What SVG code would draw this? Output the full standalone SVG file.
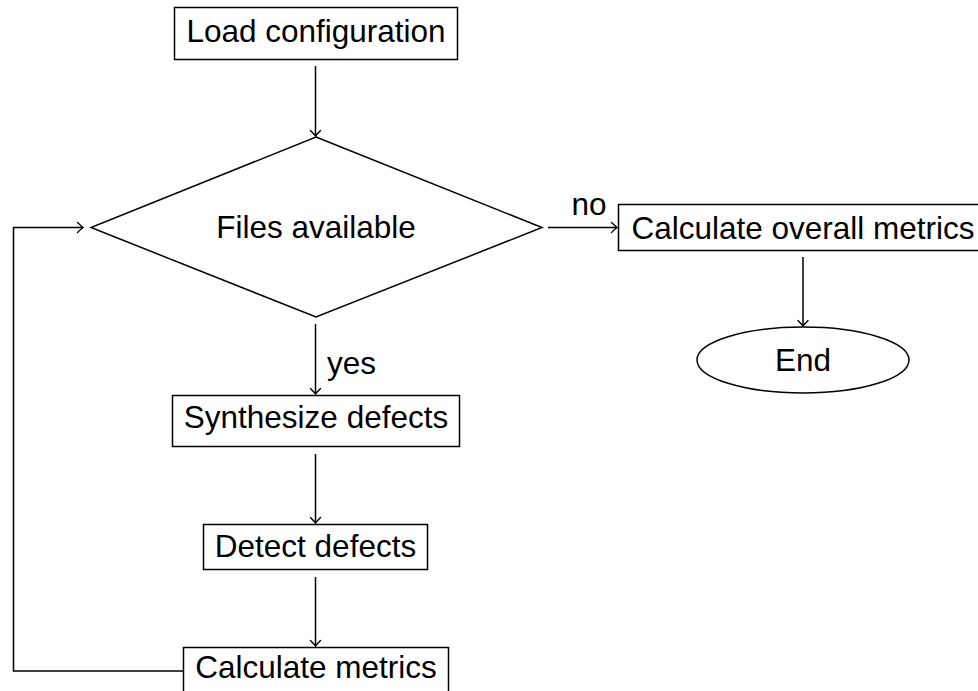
<svg xmlns="http://www.w3.org/2000/svg" width="978" height="691" viewBox="0 0 978 691">
  <style>
    .shape { fill: #ffffff; stroke: #000000; stroke-width: 1.5; }
    .edge { fill: none; stroke: #000000; stroke-width: 1.5; }
    .label { font-family: "Liberation Sans", Arial, sans-serif; font-size: 31.5px; fill: #000000; }
    .mid { text-anchor: middle; }
  </style>
  <defs>
    <marker id="arrow" markerUnits="userSpaceOnUse" markerWidth="12" markerHeight="12" viewBox="-6 -6 12 12" refX="0" refY="0" orient="auto" overflow="visible">
      <path d="M -5.5,-5 Q -1.3,-0.9 0,0 Q -1.3,0.9 -5.5,5" fill="none" stroke="#000000" stroke-width="1.4" stroke-linecap="round"/>
    </marker>
  </defs>
  <rect width="978" height="691" fill="#ffffff"/>

  <g id="connectors">
    <path class="edge" d="M 315.5,66 V 136" marker-end="url(#arrow)"/>
    <path class="edge" d="M 315.5,324 V 394" marker-end="url(#arrow)"/>
    <path class="edge" d="M 315.5,454 V 523" marker-end="url(#arrow)"/>
    <path class="edge" d="M 315.5,577 V 646" marker-end="url(#arrow)"/>
    <path class="edge" d="M 548,227.5 H 617" marker-end="url(#arrow)"/>
    <path class="edge" d="M 803,257 V 326" marker-end="url(#arrow)"/>
    <path class="edge" d="M 183,671 H 13.5 V 227.5 H 83" marker-end="url(#arrow)"/>
    <text class="label mid" x="589" y="215">no</text>
    <text class="label" x="327" y="374">yes</text>
  </g>

  <g id="load-configuration">
    <rect class="shape" x="174.5" y="7.5" width="283" height="52"/>
    <text class="label mid" x="316" y="42">Load configuration</text>
  </g>

  <g id="files-available">
    <polygon class="shape" points="316,137 542,227.5 316,317 91,227.5"/>
    <text class="label mid" x="316" y="238">Files available</text>
  </g>

  <g id="calculate-overall-metrics">
    <rect class="shape" x="618.5" y="204.5" width="370" height="46"/>
    <text class="label mid" x="803" y="239">Calculate overall metrics</text>
  </g>

  <g id="end">
    <ellipse class="shape" cx="803" cy="360" rx="106" ry="33"/>
    <text class="label mid" x="803" y="371">End</text>
  </g>

  <g id="synthesize-defects">
    <rect class="shape" x="172.5" y="395.5" width="287" height="51"/>
    <text class="label mid" x="316" y="428">Synthesize defects</text>
  </g>

  <g id="detect-defects">
    <rect class="shape" x="203.5" y="524.5" width="224" height="45"/>
    <text class="label mid" x="315.5" y="557">Detect defects</text>
  </g>

  <g id="calculate-metrics">
    <rect class="shape" x="183.5" y="647.5" width="265" height="46"/>
    <text class="label mid" x="316" y="678">Calculate metrics</text>
  </g>
</svg>
